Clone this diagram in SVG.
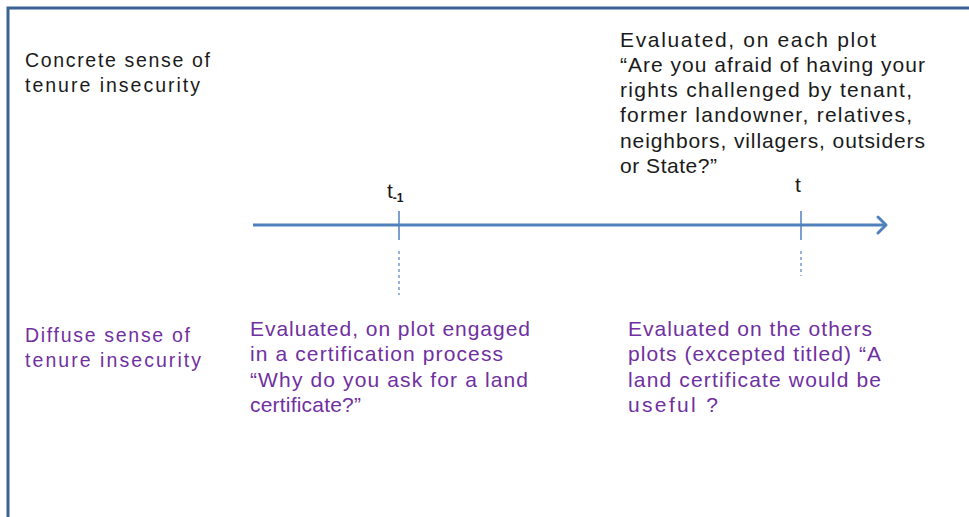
<svg xmlns="http://www.w3.org/2000/svg" width="969" height="517" viewBox="0 0 969 517">
<style>
.t{font-family:"Liberation Sans",Arial,sans-serif;font-size:21px;fill:#1a1a1a}
.p{fill:#7030a0}
.s{font-size:19.5px}
.ax{stroke:#4f81bd;fill:none}
</style>
<rect width="969" height="517" fill="#fff"/>
<path d="M8,517 V8 H969" fill="none" stroke="#3b6295" stroke-width="3"/>
<g id="connectors">
<line class="ax" x1="253" y1="225" x2="885" y2="225" stroke-width="3"/>
<path d="M878,217 L886,225 L878,233" class="ax" stroke-width="3" stroke-linecap="round" stroke-linejoin="round"/>
<line class="ax" x1="399" y1="211" x2="399" y2="240" stroke-width="1.5"/>
<line class="ax" x1="399" y1="251" x2="399" y2="295" stroke-width="1.2" stroke-dasharray="3,3"/>
<line class="ax" x1="801" y1="211" x2="801" y2="240" stroke-width="1.5"/>
<line class="ax" x1="801" y1="251" x2="801" y2="276" stroke-width="1.2" stroke-dasharray="3,3"/>
</g>
<g id="tick-t-1"><text class="t" x="387" y="198" font-size="20">t<tspan font-size="12" font-weight="bold" dy="4">-1</tspan></text></g>
<g id="tick-t"><text class="t" x="795" y="192" font-size="20">t</text></g>
<g id="concrete-label">
<text class="t s" x="25" y="67" textLength="185">Concrete sense of</text>
<text class="t s" x="25" y="92" textLength="175">tenure insecurity</text>
</g>
<g id="concrete-question">
<text class="t" x="620" y="47" textLength="256">Evaluated, on each plot</text>
<text class="t" x="620" y="72" textLength="305">“Are you afraid of having your</text>
<text class="t" x="620" y="97" textLength="292">rights challenged by tenant,</text>
<text class="t" x="620" y="122" textLength="292">former landowner, relatives,</text>
<text class="t" x="620" y="148" textLength="305">neighbors, villagers, outsiders</text>
<text class="t" x="620" y="173" textLength="97">or State?”</text>
</g>
<g id="diffuse-label">
<text class="t s p" x="25" y="342" textLength="165">Diffuse sense of</text>
<text class="t s p" x="25" y="367" textLength="176">tenure insecurity</text>
</g>
<g id="diffuse-certification">
<text class="t p" x="250" y="336" textLength="280">Evaluated, on plot engaged</text>
<text class="t p" x="250" y="361" textLength="253">in a certification process</text>
<text class="t p" x="250" y="387" textLength="278">“Why do you ask for a land</text>
<text class="t p" x="250" y="412" textLength="111">certificate?”</text>
</g>
<g id="diffuse-others">
<text class="t p" x="628" y="336" textLength="244">Evaluated on the others</text>
<text class="t p" x="628" y="361" textLength="253">plots (excepted titled) “A</text>
<text class="t p" x="628" y="387" textLength="253">land certificate would be</text>
<text class="t p" x="628" y="412" textLength="90">useful ?</text>
</g>
</svg>
